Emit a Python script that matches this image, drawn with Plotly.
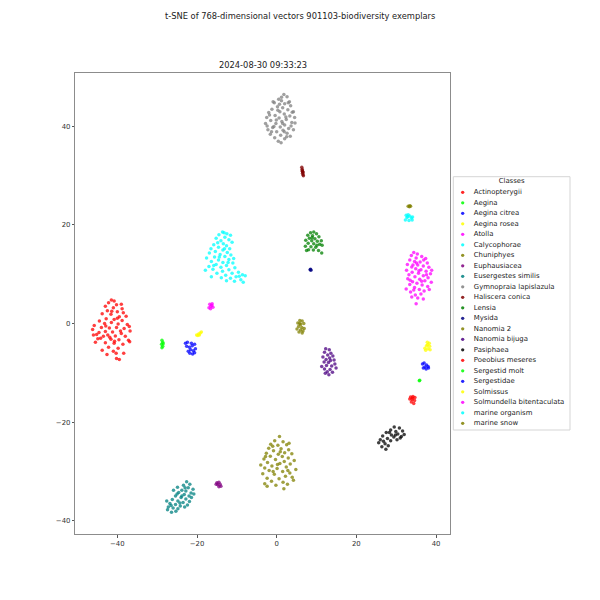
import plotly.graph_objects as go

W, H = 600, 600

CLASSES = ["Actinopterygii", "Aegina", "Aegina citrea", "Aegina rosea", "Atolla",
           "Calycophorae", "Chuniphyes", "Euphausiacea", "Eusergestes similis",
           "Gymnopraia lapislazula", "Haliscera conica", "Lensia", "Mysida",
           "Nanomia 2", "Nanomia bijuga", "Pasiphaea", "Poeobius meseres",
           "Sergestid molt", "Sergestidae", "Solmissus", "Solmundella bitentaculata",
           "marine organism", "marine snow"]

COLORS = ["#ff0000", "#00ff00", "#0000ff", "#ffff00", "#ff00ff", "#00ffff", "#808000",
          "#800080", "#008080", "#808080", "#800000", "#008000", "#000080", "#808000",
          "#4b0082", "#000000", "#ff0000", "#00ff00", "#0000ff", "#ffff00", "#ff00ff",
          "#00ffff", "#808000"]

ACTINOPTERYGII = [(-41.5,4.8),(-40.8,4.6),(-42.2,4.2),(-40.2,3.8),(-43.0,3.5),(-39.0,3.9),(-41.0,3.2),
    (-42.5,2.6),(-40.0,2.4),(-38.5,2.2),(-43.8,2.0),(-41.6,1.9),(-39.5,1.4),(-37.8,1.5),(-42.8,1.0),
    (-40.8,0.8),(-44.5,0.5),(-38.8,0.6),(-43.2,0.0),(-41.5,0.2),(-39.8,-0.1),(-37.5,-0.2),(-45.8,-0.4),
    (-44.0,-0.8),(-42.0,-0.9),(-40.2,-0.8),(-38.3,-1.0),(-46.2,-1.2),(-43.0,-1.6),(-41.2,-1.7),
    (-39.2,-1.5),(-36.8,-1.5),(-45.2,-2.2),(-42.4,-2.3),(-40.5,-2.5),(-38.0,-2.6),(-44.2,-3.0),
    (-41.6,-3.2),(-39.6,-3.3),(-37.2,-3.4),(-45.5,-3.8),(-43.0,-3.9),(-40.8,-4.0),(-38.6,-4.2),
    (-42.2,-4.8),(-39.8,-5.0),(-43.8,-5.4),(-41.0,-5.6),(-38.4,-6.0),(-40.2,-7.1),(-39.5,-7.3),
    (-42.6,-6.3),(-44.6,-1.8),(-37.0,-0.6),(-42.9,-0.5),(-40.0,1.1),(-41.9,-2.8),(-39.0,-2.0),
    (-43.5,-2.6),(-40.7,-3.6),(-38.8,3.0),(-41.4,2.5),(-44.9,-3.1),(-36.9,-3.7),(-46.0,-2.3),(-40.3,-6.0)]
AEGINA = [(-28.8,-3.4),(-28.6,-3.8),(-28.9,-4.2),(-28.6,-4.6),(-28.8,-4.9),(-28.5,-4.1)]
AEGINA_CITREA = [(-22.9,-4.0),(-22.4,-3.8),(-22.6,-4.6),(-21.9,-4.8),(-21.2,-4.5),(-20.6,-4.2),
    (-21.6,-5.3),(-20.9,-5.5),(-20.4,-5.1),(-21.8,-6.0),(-21.1,-6.2),(-20.6,-5.9),(-22.2,-5.6),(-21.4,-4.0)]
AEGINA_ROSEA = [(-20.1,-2.3),(-19.6,-2.1),(-19.2,-1.9),(-18.9,-1.7),(-19.8,-2.4),(-19.4,-2.3)]
ATOLLA = [(34.4,14.4),(35.3,14.1),(33.8,13.8),(36.4,13.6),(35.0,13.3),(37.4,13.2),(33.4,12.9),
    (34.6,12.6),(36.0,12.5),(37.8,12.3),(32.8,12.0),(35.4,11.9),(36.8,11.7),(33.9,11.5),(38.2,11.4),
    (34.9,11.1),(36.2,10.9),(32.6,10.8),(37.5,10.6),(34.0,10.4),(35.6,10.2),(38.6,10.1),(33.2,9.9),
    (36.8,9.7),(34.7,9.5),(38.0,9.3),(32.9,9.1),(35.9,9.0),(37.2,8.7),(34.1,8.5),(38.8,8.4),(35.2,8.2),
    (33.4,7.9),(36.5,7.8),(37.9,7.5),(34.6,7.3),(32.5,7.0),(35.8,6.9),(37.0,6.6),(33.6,6.4),(36.2,6.0),
    (34.8,5.8),(38.3,6.9),(35.4,5.2),(36.8,5.0),(33.9,5.4),(35.0,4.0),(34.2,11.9),(36.9,12.9),
    (35.7,10.7),(33.5,8.8),(37.6,9.9),(34.4,6.8),(36.4,8.6),(38.9,10.8),(35.1,12.3)]
CALYCOPHORAE = [(-13.6,18.6),(-12.5,18.2),(-14.5,18.0),(-11.6,17.9),(-13.0,17.5),(-15.2,17.3),
    (-12.0,17.0),(-14.0,16.8),(-11.2,16.5),(-13.4,16.2),(-15.8,16.0),(-12.6,15.8),(-14.6,15.5),
    (-11.8,15.2),(-16.5,15.2),(-13.5,14.9),(-15.4,14.6),(-12.4,14.4),(-16.9,14.3),(-14.2,14.0),
    (-11.5,13.9),(-13.0,13.6),(-15.6,13.5),(-17.6,13.3),(-12.0,13.0),(-14.6,12.9),(-16.4,12.6),
    (-13.5,12.4),(-11.0,12.3),(-15.2,12.0),(-12.6,11.8),(-17.0,11.6),(-14.0,11.4),(-10.5,11.3),
    (-16.0,11.0),(-12.0,10.9),(-17.9,10.8),(-13.6,10.6),(-9.6,10.4),(-11.2,10.2),(-15.0,10.2),
    (-8.6,9.9),(-12.8,9.8),(-10.2,9.5),(-7.9,9.7),(-13.9,9.3),(-11.6,9.2),(-9.0,8.9),(-10.6,8.6),
    (-8.4,8.4),(-12.6,8.7),(-16.4,9.5),(-14.8,16.4),(-13.1,15.2),(-15.8,11.8),(-12.2,12.4),
    (-10.8,13.2),(-14.4,13.5),(-13.2,18.4),(-9.4,9.6)]
CHUNIPHYES = [(33.0,23.8),(33.3,23.7),(33.6,23.8),(33.4,23.9)]
EUPHAUSIACEA = [(-15.0,-32.3),(-14.5,-32.2),(-14.2,-32.6),(-14.8,-32.7),(-14.0,-33.0),(-14.5,-33.1),(-15.2,-32.6)]
EUSERGESTES_SIMILIS = [(-22.6,-32.1),(-21.8,-32.6),(-23.4,-32.8),(-22.2,-33.3),(-21.0,-33.6),
    (-23.8,-33.8),(-22.8,-34.0),(-21.5,-34.4),(-24.6,-34.3),(-23.2,-34.7),(-22.0,-35.0),(-25.4,-35.0),
    (-24.0,-35.3),(-22.8,-35.6),(-26.2,-35.7),(-24.8,-36.0),(-23.5,-36.3),(-26.8,-36.5),(-25.4,-36.7),
    (-24.2,-37.0),(-27.2,-37.2),(-26.0,-37.4),(-24.8,-37.6),(-27.4,-37.8),(-26.4,-38.3),(-25.3,-38.1),
    (-23.0,-33.3),(-25.0,-34.6),(-21.4,-35.3),(-23.8,-35.0),(-26.5,-36.9),(-24.3,-36.4),
    (-20.8,-34.6),(-21.9,-36.1),(-23.1,-37.2),(-25.9,-33.8),(-27.6,-36.0),(-22.4,-36.8),(-24.9,-33.2)]
GYMNOPRAIA = [(1.8,46.5),(2.6,46.0),(0.5,45.5),(1.2,45.2),(3.2,45.0),(-0.6,44.8),(2.0,44.6),(0.2,44.0),
    (1.5,43.8),(3.5,44.2),(-1.2,43.5),(2.8,43.4),(4.2,43.0),(0.8,43.0),(-2.0,42.8),(1.9,42.5),
    (-0.4,42.2),(3.3,42.1),(-2.5,41.8),(0.6,41.7),(2.4,41.4),(4.5,41.8),(-1.5,41.2),(1.3,41.0),
    (3.8,40.8),(-0.2,40.6),(-2.8,40.6),(2.0,40.3),(0.9,39.9),(3.0,39.6),(-1.0,39.8),(-2.2,39.3),
    (1.6,39.2),(4.2,39.3),(0.0,38.9),(2.6,38.6),(-1.6,38.4),(1.0,38.2),(3.4,38.0),(-0.5,37.7),
    (2.0,37.5),(0.4,37.0),(1.1,36.7),(2.9,44.8),(-0.9,45.0),(1.5,40.6),(-1.8,42.3),(3.9,42.9),
    (0.3,43.3),(2.3,41.9),(-0.7,40.0),(1.9,38.9),(-2.4,40.1),(3.6,40.1),(0.7,44.5),(-1.3,38.9),
    (2.5,37.9),(4.6,40.7),(1.2,45.9),(-0.1,41.3)]
HALISCERA_CONICA = [(6.3,31.7),(6.4,31.3),(6.5,30.9),(6.5,30.5),(6.6,30.2),(6.7,30.0),(6.4,31.0),(6.6,30.7)]
LENSIA = [(8.5,18.4),(9.3,18.6),(10.0,18.2),(7.8,17.9),(9.0,17.8),(10.6,17.6),(8.2,17.3),(9.6,17.2),
    (7.3,16.9),(8.8,16.8),(10.2,16.7),(11.2,16.8),(7.9,16.3),(9.3,16.2),(10.8,16.1),(7.2,15.7),
    (8.6,15.6),(9.8,15.5),(11.4,15.9),(8.0,15.0),(9.2,14.9),(10.5,14.8),(11.3,14.3),(7.5,14.8),
    (8.9,17.4),(10.1,15.9)]
MYSIDA = [(8.4,10.9),(8.6,10.8),(8.5,11.0)]
NANOMIA_2 = [(5.8,0.6),(6.4,0.5),(5.3,0.1),(6.0,-0.2),(6.8,0.0),(5.5,-0.6),(6.3,-0.8),(5.1,-1.1),
    (6.0,-1.3),(6.9,-1.0),(5.6,-1.7),(6.4,-1.9),(5.8,0.0),(6.6,-1.5)]
NANOMIA_BIJUGA = [(12.3,-5.1),(13.2,-5.3),(12.0,-5.8),(13.6,-6.0),(12.8,-6.4),(14.1,-6.6),(11.6,-6.8),
    (13.3,-7.0),(12.4,-7.3),(14.4,-7.4),(11.9,-7.8),(13.0,-7.9),(14.6,-8.2),(12.5,-8.5),(13.8,-8.6),
    (11.3,-8.7),(12.0,-9.2),(13.4,-9.3),(14.9,-9.0),(12.7,-9.8),(13.1,-10.4),(14.0,-9.9),(12.2,-10.1),(13.5,-7.5)]
PASIPHAEA = [(29.5,-21.0),(30.8,-21.2),(28.6,-21.6),(31.6,-21.8),(29.9,-21.9),(27.5,-22.1),(30.4,-22.4),
    (28.8,-22.6),(32.0,-22.5),(26.6,-22.8),(29.4,-23.0),(31.0,-23.2),(27.8,-23.3),(26.0,-23.6),
    (28.6,-23.8),(30.2,-23.6),(25.6,-24.2),(27.2,-24.4),(28.0,-24.8),(26.4,-25.0),(27.4,-25.5),
    (29.8,-22.6),(31.3,-22.9),(28.3,-22.1),(26.8,-23.9)]
POEOBIUS_MESERES = [(33.6,-14.9),(34.2,-14.8),(34.7,-15.0),(33.4,-15.3),(34.0,-15.4),(34.6,-15.6),
    (33.8,-15.9),(34.4,-16.2),(34.1,-15.1)]
SERGESTID_MOLT = [(35.8,-11.6),(35.9,-11.5)]
SERGESTIDAE = [(36.6,-8.2),(37.0,-8.0),(37.6,-8.4),(38.0,-8.7),(37.2,-8.8),(36.8,-9.0),(37.5,-9.2),(38.1,-9.0)]
SOLMISSUS = [(37.8,-3.8),(38.3,-4.0),(37.6,-4.5),(38.4,-4.6),(37.2,-5.0),(38.0,-5.1),(37.4,-5.4),
    (38.5,-5.3),(37.9,-4.3)]
SOLMUNDELLA = [(-16.8,3.9),(-16.2,4.0),(-16.5,3.5),(-17.0,3.2),(-16.0,3.3),(-16.6,3.0),(-16.3,3.7)]
MARINE_ORGANISM = [(32.5,22.0),(33.0,22.1),(33.4,21.8),(32.7,21.5),(33.8,21.4),(32.3,21.0),(34.0,21.0),
    (33.2,20.9),(34.1,21.6),(32.9,21.7)]
MARINE_SNOW = [(0.7,-22.9),(-0.5,-23.8),(1.6,-24.0),(-1.5,-24.5),(0.3,-24.7),(2.5,-24.6),(-2.0,-25.3),
    (1.1,-25.4),(3.0,-25.6),(-0.8,-25.8),(2.0,-26.2),(-2.6,-26.3),(0.4,-26.5),(3.8,-26.4),(-1.6,-26.9),
    (1.4,-27.0),(2.9,-27.3),(-3.2,-27.5),(-0.3,-27.6),(4.4,-27.8),(1.9,-28.0),(-2.3,-28.2),(0.8,-28.4),
    (3.4,-28.5),(-4.0,-28.7),(-1.2,-28.9),(2.4,-29.1),(-3.0,-29.3),(0.1,-29.4),(4.8,-29.6),(-1.9,-29.8),
    (1.5,-30.0),(3.3,-30.3),(-3.5,-30.5),(-0.6,-30.6),(2.2,-31.0),(-2.4,-31.4),(0.6,-31.5),(3.9,-31.2),
    (-1.3,-32.0),(1.6,-32.2),(-3.0,-32.5),(2.7,-32.6),(-0.2,-32.8),(1.8,-33.5),(-2.4,-33.0),(0.9,-26.0),
    (-0.9,-30.0),(2.8,-29.8),(-1.0,-24.9),(4.2,-31.8),(0.2,-28.6),(-2.8,-27.0),(3.1,-24.3)]

POINTS = [ACTINOPTERYGII, AEGINA, AEGINA_CITREA, AEGINA_ROSEA, ATOLLA, CALYCOPHORAE, CHUNIPHYES,
          EUPHAUSIACEA, EUSERGESTES_SIMILIS, GYMNOPRAIA, HALISCERA_CONICA, LENSIA, MYSIDA,
          NANOMIA_2, NANOMIA_BIJUGA, PASIPHAEA, POEOBIUS_MESERES, SERGESTID_MOLT, SERGESTIDAE,
          SOLMISSUS, SOLMUNDELLA, MARINE_ORGANISM, MARINE_SNOW]

TICKS = [-40, -20, 0, 20, 40]
TITLE = "t-SNE of 768-dimensional vectors 901103-biodiversity exemplars"
SUBTITLE = "2024-08-30 09:33:23"

FONT = "DejaVu Sans"

# pixel geometry of the axes box and legend box
AX_L, AX_R, AX_T, AX_B = 75.3, 450.0, 72.7, 534.0
LG_L, LG_R, LG_T, LG_B = 453.3, 570.0, 176.7, 430.0
ITEM0_Y, ITEM_STEP = 192.3, 10.5

fig = go.Figure()
for name, color, pts in zip(CLASSES, COLORS, POINTS):
    fig.add_trace(go.Scatter(
        x=[p[0] for p in pts], y=[p[1] for p in pts], mode="markers", name=name,
        marker=dict(color=color, size=3.5, opacity=0.75, line=dict(width=0)),
        xaxis="x", yaxis="y", showlegend=False, hoverinfo="skip"))

# custom matplotlib-like legend drawn on an auxiliary axis
idx = list(range(len(CLASSES)))
fig.add_trace(go.Scatter(x=[9.4] * len(idx), y=idx, mode="markers",
                         marker=dict(color=COLORS, size=3.3, opacity=0.85, line=dict(width=0)),
                         xaxis="x2", yaxis="y2", showlegend=False, hoverinfo="skip"))
fig.add_trace(go.Scatter(x=[20.5] * len(idx), y=idx, mode="text", text=CLASSES,
                         textposition="middle right",
                         textfont=dict(family=FONT, size=6.9, color="#222"),
                         xaxis="x2", yaxis="y2", showlegend=False, hoverinfo="skip"))
fig.add_trace(go.Scatter(x=[(LG_R - LG_L) / 2], y=[(181.7 - ITEM0_Y) / ITEM_STEP], mode="text",
                         text=["Classes"], textposition="middle center",
                         textfont=dict(family=FONT, size=6.9, color="#222"),
                         xaxis="x2", yaxis="y2", showlegend=False, hoverinfo="skip"))

y2_top = (LG_T - ITEM0_Y) / ITEM_STEP
y2_bot = (LG_B - ITEM0_Y) / ITEM_STEP

axis_common = dict(showgrid=False, zeroline=False, showline=True, mirror=True,
                   linecolor="#8c8c8c", linewidth=1, ticks="outside", ticklen=2.5,
                   tickcolor="#555", tickwidth=0.8,
                   tickfont=dict(family=FONT, size=6.9, color="#333"),
                   tickvals=TICKS, ticktext=["\u2212" + str(-t) if t < 0 else str(t) for t in TICKS])

fig.update_layout(
    width=W, height=H, autosize=False,
    margin=dict(l=0, r=0, t=0, b=0),
    paper_bgcolor="white", plot_bgcolor="white",
    showlegend=False, hovermode=False,
    xaxis=dict(domain=[AX_L / W, AX_R / W], range=[-50.55, 43.5], anchor="y", **axis_common),
    yaxis=dict(domain=[1 - AX_B / H, 1 - AX_T / H], range=[-42.7, 50.9], anchor="x", **axis_common),
    xaxis2=dict(domain=[LG_L / W, LG_R / W], range=[0, LG_R - LG_L], anchor="y2",
                visible=False, fixedrange=True),
    yaxis2=dict(domain=[1 - LG_B / H, 1 - LG_T / H], range=[y2_bot, y2_top], anchor="x2",
                visible=False, fixedrange=True),
    shapes=[dict(type="rect", xref="paper", yref="paper",
                 x0=LG_L / W, x1=LG_R / W, y0=1 - LG_B / H, y1=1 - LG_T / H,
                 line=dict(color="#d5d5d5", width=1), fillcolor="rgba(255,255,255,0.8)",
                 layer="below")],
    annotations=[
        dict(text=TITLE, x=0.5, y=1 - 16.5 / H, xref="paper", yref="paper",
             xanchor="center", yanchor="middle", showarrow=False,
             font=dict(family=FONT, size=8.3, color="#222")),
        dict(text=SUBTITLE, x=(AX_L + AX_R) / 2 / W, y=1 - 64.5 / H, xref="paper", yref="paper",
             xanchor="center", yanchor="middle", showarrow=False,
             font=dict(family=FONT, size=8.3, color="#222")),
    ],
)

fig.write_html("out.html")
